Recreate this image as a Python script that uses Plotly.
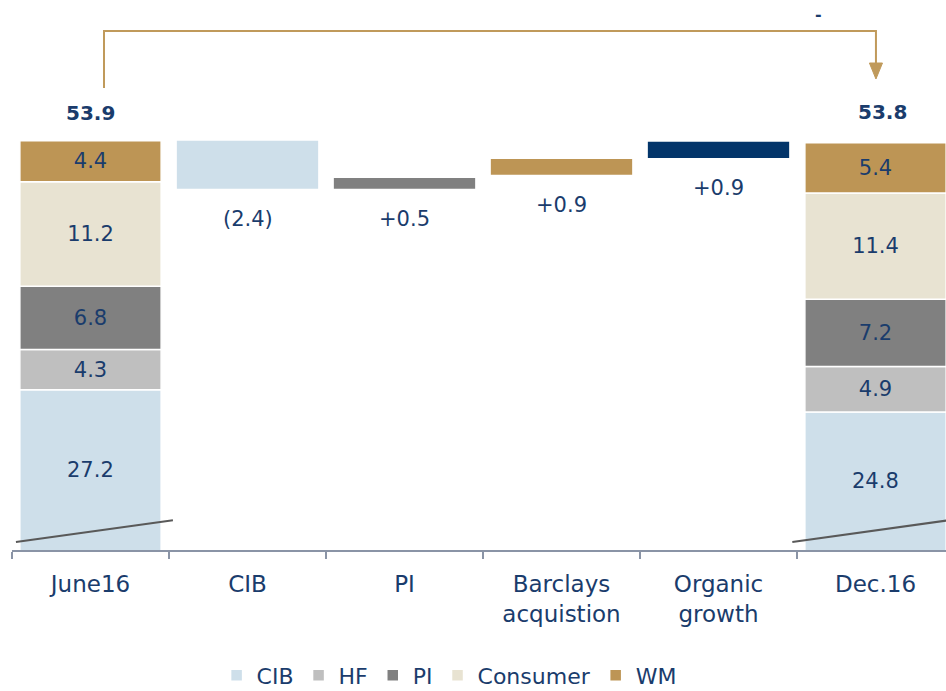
import plotly.graph_objects as go

# ---------------- data ----------------
categories = ["June16", "CIB", "PI", "Barclays<br>acquistion", "Organic<br>growth", "Dec.16"]
segments = ["CIB", "HF", "PI", "Consumer", "WM"]
june_values = [27.2, 4.3, 6.8, 11.2, 4.4]
dec_values = [24.8, 4.9, 7.2, 11.4, 5.4]
june_total = 53.9
dec_total = 53.8

bridge_categories = ["CIB", "PI", "Barclays<br>acquistion", "Organic<br>growth"]
bridge_low = [48.75, 48.75, 50.25, 52.05]
bridge_high = [53.9, 49.9, 51.95, 53.8]
bridge_labels = ["(2.4)", "+0.5", "+0.9", "+0.9"]

y_axis_min = 10  # broken axis starts here

# ---------------- style ----------------
NAVY = "#1A3C6C"
seg_colors = {"CIB": "#CEDFEA", "HF": "#BFBFBF", "PI": "#808080",
              "Consumer": "#E8E3D2", "WM": "#BD9555"}
bridge_colors = ["#CEDFEA", "#808080", "#BD9555", "#03356A"]
GOLD = "#C09A5B"
FONT = "DejaVu Sans"

fig = go.Figure()

annotations = []
base_j = 0.0
base_d = 0.0
for name, vj, vd in zip(segments, june_values, dec_values):
    is_bottom = base_j == 0.0
    fig.add_trace(go.Bar(
        x=[categories[0], categories[-1]],
        y=[vj, vd],
        base=[base_j, base_d],
        name=name,
        marker=dict(color=seg_colors[name], line=dict(color="white", width=1.5)),
        text=None if is_bottom else [f"{vj:.1f}", f"{vd:.1f}"],
        textposition="inside",
        insidetextanchor="middle",
        textangle=0,
        textfont=dict(family=FONT, size=21, color=NAVY),
        width=0.9,
        hoverinfo="skip",
    ))
    if is_bottom:
        # label the visible part of the bars cut by the axis break
        for cat, v in ((categories[0], vj), (categories[-1], vd)):
            annotations.append(dict(x=cat, y=(y_axis_min + v) / 2, text=f"{v:.1f}",
                                    showarrow=False,
                                    font=dict(family=FONT, size=21, color=NAVY)))
    base_j += vj
    base_d += vd

fig.add_trace(go.Bar(
    x=bridge_categories,
    y=[h - l for l, h in zip(bridge_low, bridge_high)],
    base=bridge_low,
    marker=dict(color=bridge_colors, line=dict(width=0)),
    width=0.9,
    showlegend=False,
    hoverinfo="skip",
))

for cat, low, lab in zip(bridge_categories, bridge_low, bridge_labels):
    annotations.append(dict(x=cat, y=low, text=lab, showarrow=False,
                            yanchor="top", yshift=-16,
                            font=dict(family=FONT, size=21, color=NAVY)))
annotations.append(dict(x=categories[0], y=june_total, text=f"<b>{june_total}</b>",
                        showarrow=False, yanchor="bottom", yshift=14,
                        font=dict(family=FONT, size=20, color=NAVY)))
annotations.append(dict(x=categories[-1], y=dec_total, text=f"<b>{dec_total}</b>",
                        showarrow=False, yanchor="bottom", yshift=16, xshift=7,
                        font=dict(family=FONT, size=20, color=NAVY)))
annotations.append(dict(x=0.869, y=1.19, xref="paper", yref="paper", text="<b>-</b>",
                        showarrow=False, yanchor="middle",
                        font=dict(family=FONT, size=16, color=NAVY)))

shapes = [
    # bracket arrow
    dict(type="path", xref="paper", yref="paper",
         path="M0.0985,1.0267 L0.0985,1.1533 L0.925,1.1533 L0.925,1.08",
         line=dict(color=GOLD, width=2)),
    dict(type="path", xref="paper", yref="paper",
         path="M0.918,1.0822 L0.932,1.0822 L0.925,1.0467 Z",
         fillcolor=GOLD, line=dict(color=GOLD, width=1)),
    # axis break marks
    dict(type="line", xref="x", yref="y", x0=-0.475, x1=0.525, y0=10.86, y1=13.2,
         line=dict(color="#595959", width=2), layer="above"),
    dict(type="line", xref="x", yref="y", x0=4.47, x1=5.47, y0=10.86, y1=13.2,
         line=dict(color="#595959", width=2), layer="above"),
]

fig.update_layout(
    width=946, height=691,
    margin=dict(l=12, r=0, t=100, b=141, autoexpand=False),
    paper_bgcolor="white", plot_bgcolor="white",
    barmode="overlay",
    showlegend=True,
    legend=dict(orientation="h", x=0.468, xanchor="center", y=-0.279, yanchor="middle",
                font=dict(family=FONT, size=22, color=NAVY), traceorder="normal"),
    annotations=annotations,
    shapes=shapes,
    uniformtext=dict(minsize=21, mode="show"),
)
fig.update_xaxes(
    type="category", categoryorder="array", categoryarray=categories,
    range=[-0.5, 5.449],
    showline=True, linecolor="#8A94A6", linewidth=2,
    ticks="outside", tickson="boundaries", ticklen=7, tickwidth=2, tickcolor="#8A94A6",
    tickfont=dict(family=FONT, size=23, color=NAVY), ticklabelstandoff=12,
    showgrid=False, zeroline=False, automargin=False,
)
fig.update_yaxes(range=[y_axis_min, 58.28], visible=False, showgrid=False, zeroline=False)

# remove the default page margin so the 946x691 figure fills the window exactly
fig.write_html("out.html", config={"displayModeBar": False},
               post_script="document.body.style.margin='0';")
